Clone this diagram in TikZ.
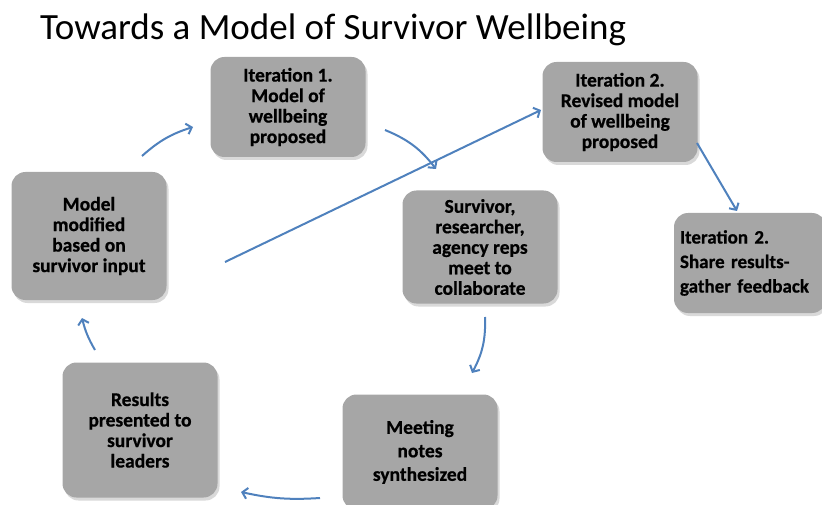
\documentclass[tikz,border=0pt]{standalone}
\usepackage{fontspec}
\setmainfont{Carlito}[BoldFeatures={FakeBold=0.6}]
\usetikzlibrary{positioning,shadows,arrows.meta}
\definecolor{boxgray}{RGB}{166,166,166}
\definecolor{flowblue}{RGB}{79,129,189}

\begin{document}
\begin{tikzpicture}[x=1pt, y=-1pt,
    stage/.style={fill=boxgray, rounded corners=14pt, align=center,
        minimum width=155pt, inner sep=4pt,
        font=\fontsize{19.5}{20.5}\selectfont\bfseries,
        drop shadow={opacity=0.3, shadow xshift=2pt, shadow yshift=-3pt}},
    title_label/.style={anchor=base west, inner sep=0pt, font=\fontsize{37}{40}\selectfont},
    flow/.style={flowblue, line width=2pt, -{Straight Barb[length=5pt,width=11pt]}}
]
    \clip (0,0) rectangle (822,505);
    \node[title_label] (title) at (40,40) {Towards a Model of Survivor Wellbeing};
    % Stufen
    \node[stage, minimum height=100pt] (iter1) at (288,107) {Iteration 1.\\Model of\\wellbeing\\proposed};
    \node[stage, minimum height=100pt] (iter2) at (620,112) {Iteration 2.\\Revised model\\of wellbeing\\proposed};
    \node[stage, minimum height=128pt] (modified) at (89,236) {Model\\modified\\based on\\survivor input};
    \node[stage, minimum height=113pt] (meet) at (480,247) {Survivor,\\researcher,\\agency reps\\meet to\\collaborate};
    \node[stage, minimum height=100pt, minimum width=150pt, text width=140pt, align=left,
        inner xsep=6pt, font=\fontsize{19}{24.5}\selectfont\bfseries] (share) at (750,263)
        {Iteration 2.\\Share results-\\gather feedback};
    \node[stage, minimum height=135pt] (results) at (140,430) {Results\\presented to\\survivor\\leaders};
    \node[stage, minimum height=115pt, font=\fontsize{19.5}{23.5}\selectfont\bfseries] (notes) at (420,452)
        {Meeting\\notes\\synthesized};
    % Pfeilenden
    \coordinate (mod-out) at (142,156);   \coordinate (it1-in) at (193,127);
    \coordinate (it1-out) at (385,130);   \coordinate (meet-in) at (436,169);
    \coordinate (mod-jump) at (225,262);  \coordinate (it2-in) at (541,110);
    \coordinate (it2-out) at (697,143);   \coordinate (share-in) at (737,211);
    \coordinate (meet-out) at (485,317);  \coordinate (notes-in) at (472,373);
    \coordinate (notes-out) at (320,498); \coordinate (res-in) at (241,492);
    \coordinate (res-out) at (95,350);    \coordinate (mod-in) at (82,318);
    % Pfeile
    \draw[flow, bend left=12] (mod-out) to (it1-in);
    \draw[flow, bend left=15] (it1-out) to (meet-in);
    \draw[flow] (mod-jump) -- (it2-in);
    \draw[flow] (it2-out) -- (share-in);
    \draw[flow, bend left=15] (meet-out) to (notes-in);
    \draw[flow, bend left=8] (notes-out) to (res-in);
    \draw[flow, bend left=8] (res-out) to (mod-in);
\end{tikzpicture}
\end{document}
